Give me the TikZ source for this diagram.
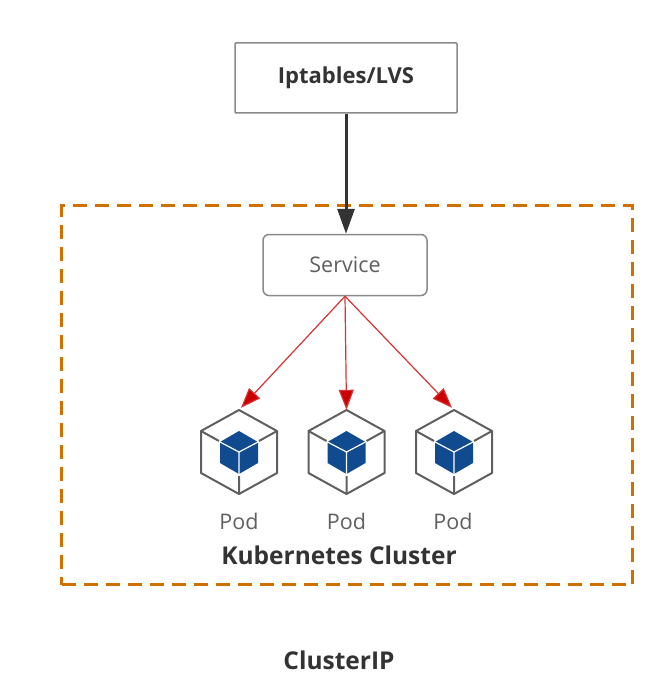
\documentclass[tikz,border=0pt]{standalone}
\usepackage{fontspec}
\setmainfont{Open Sans}
\usetikzlibrary{arrows.meta,positioning}
\definecolor{inkdark}{HTML}{333333}
\definecolor{inkgray}{HTML}{5F5F5F}
\definecolor{edgegray}{HTML}{8A8A8A}
\definecolor{zoneorange}{HTML}{D07000}
\definecolor{podblue}{HTML}{114B8F}
\definecolor{iconred}{HTML}{CC0000}
\tikzset{
  lvsbox/.style ={draw=edgegray,line width=1.5pt,rounded corners=1pt,fill=white,
                  minimum width=222pt,minimum height=70pt,inner sep=0pt,
                  text=inkdark,font=\fontsize{22}{26}\selectfont\bfseries},
  svcbox/.style ={draw=edgegray,line width=1.5pt,rounded corners=6pt,fill=white,
                  minimum width=164pt,minimum height=61pt,inner sep=0pt,
                  text=inkgray,font=\fontsize{21.5}{26}\selectfont},
  zone/.style   ={draw=zoneorange,dashed,dash pattern=on 14pt off 8pt,line width=2.4pt,
                  minimum width=571pt,minimum height=379pt,inner sep=0pt},
  podbox/.style ={minimum width=78pt,minimum height=86pt,inner sep=0pt},
  podlabel/.style={text=inkgray,inner sep=0pt,font=\fontsize{21.5}{26}\selectfont},
  title/.style  ={text=inkdark,inner sep=0pt,font=\fontsize{24.5}{29}\selectfont\bfseries},
  flow/.style   ={-{Triangle[length=25pt,width=17pt]},line width=3pt,draw=inkdark},
  podflow/.style={-{Triangle[length=20pt,width=15pt,fill=iconred]},line width=1.2pt,
                  draw=iconred!80},
  pics/podicon/.style={code={
    \draw[inkgray,line width=2pt,line join=round]
      (0,-42) -- (38,-21) -- (38,21) -- (0,42) -- (-38,21) -- (-38,-21) -- cycle;
    \draw[inkgray,line width=2pt]
      (-38,-21) -- (-20,-11) (38,-21) -- (20,-11) (0,42) -- (0,24);
    \fill[podblue]
      (0,-21) -- (19,-10) -- (19,11) -- (0,22) -- (-19,11) -- (-19,-10) -- cycle;
    \draw[white,line width=1.2pt]
      (-19,-10) -- (0,0) -- (19,-10) (0,0) -- (0,22);
  }}
}
\begin{document}
\begin{tikzpicture}[x=1pt,y=-1pt]
  \useasboundingbox (0,0) rectangle (669,690);
  \node[zone] (cluster) at (347,395) {};
  \node[lvsbox] (lvs) at (346,78) {Iptables/LVS};
  \node[svcbox] (svc) at (345,265) {Service};
  \node[podbox] (poda) at (239,452) {};
  \node[podbox] (podb) at (346.5,452) {};
  \node[podbox] (podc) at (454,452) {};
  \pic at (poda) {podicon};
  \pic at (podb) {podicon};
  \pic at (podc) {podicon};
  \node[podlabel] (laba) at (239,521) {Pod};
  \node[podlabel] (labb) at (346.5,521) {Pod};
  \node[podlabel] (labc) at (453,521) {Pod};
  \node[title] (clname) at (339,555) {Kubernetes Cluster};
  \node[title] (name) at (339,660) {ClusterIP};
  \draw[flow] (lvs.south) -- (lvs.south |- svc.north);
  \draw[podflow] (svc.south) -- ([xshift=2pt,yshift=1pt]poda.north);
  \draw[podflow] (svc.south) -- ([yshift=-1pt]podb.north);
  \draw[podflow] (svc.south) -- ([xshift=-2pt,yshift=1pt]podc.north);
\end{tikzpicture}
\end{document}
